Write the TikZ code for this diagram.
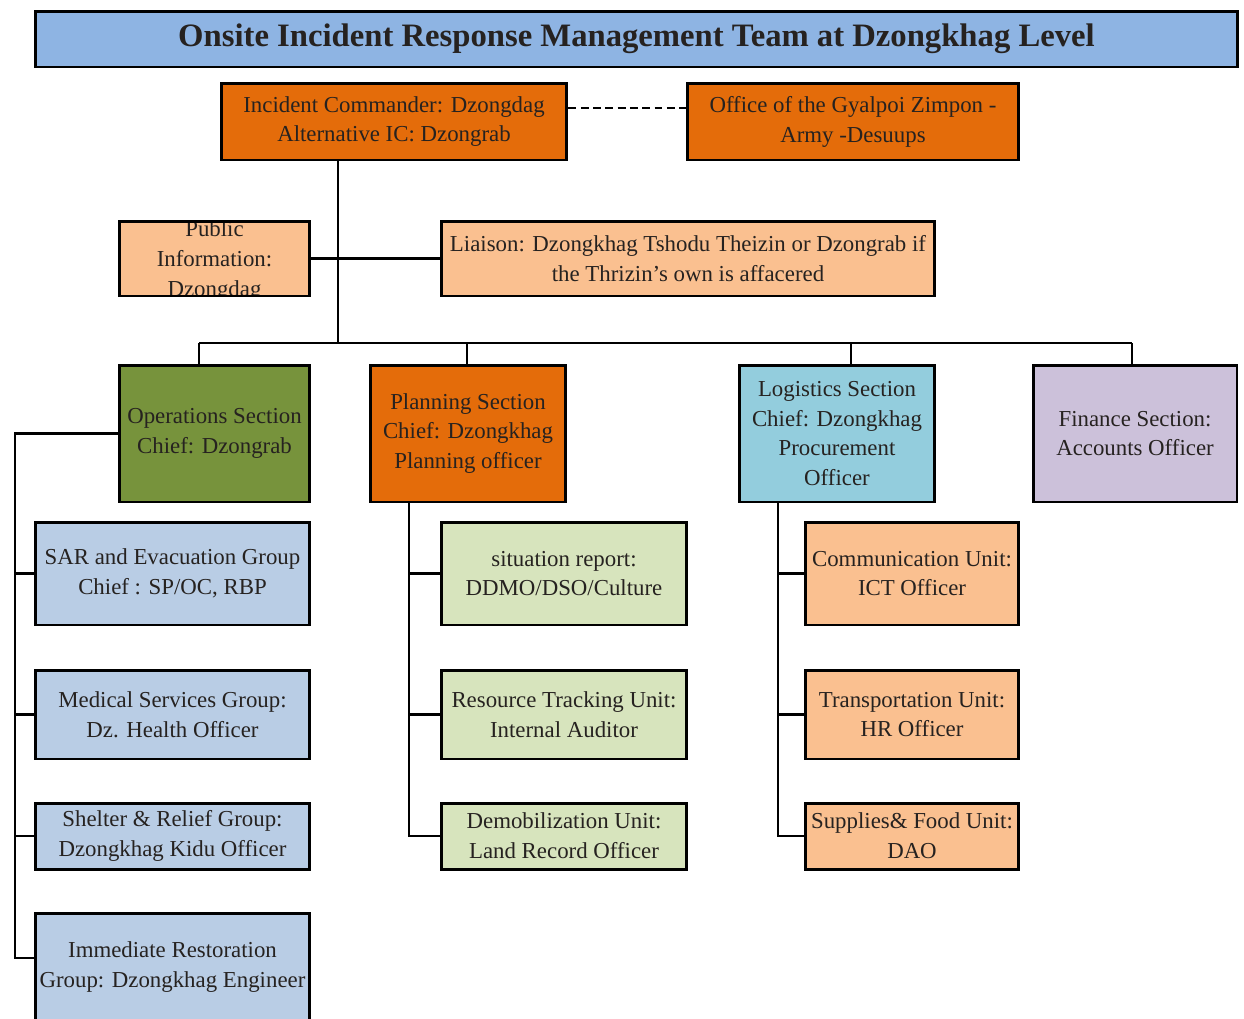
\documentclass[tikz,border=0pt]{standalone}
\usepackage{fontspec}
\setmainfont{Liberation Serif}
\usetikzlibrary{positioning}

\definecolor{titleblue}{HTML}{8EB4E3}
\definecolor{deeporange}{HTML}{E46C0A}
\definecolor{paleorange}{HTML}{FAC090}
\definecolor{olivegreen}{HTML}{77933C}
\definecolor{palegreen}{HTML}{D7E4BD}
\definecolor{skyblue}{HTML}{93CDDD}
\definecolor{steelblue}{HTML}{B9CDE5}
\definecolor{lavender}{HTML}{CCC1DA}
\definecolor{textdark}{HTML}{262220}

\begin{document}
\begin{tikzpicture}[
            x = 0.02cm, y = -0.02cm, % one unit = one pixel of the chart
            line width = 1.6pt, % connector lines
            font = \fontsize{13}{17}\selectfont
        ]

        \tikzstyle{box}=[
            draw = black,
            line width = 1.7pt,
            align = center,
            inner sep = 2pt,
            text = textdark
        ]
        \tikzstyle{section}=[box, minimum height = 2.74cm]
        \tikzstyle{unit}=[box, minimum height = 2.06cm]
        \tikzstyle{unitmid}=[box, minimum height = 1.78cm]
        \tikzstyle{unitlow}=[box, minimum height = 1.32cm]

        \useasboundingbox[fill=white] (0,0) rectangle (1244,1018);

        % heading
        \node[box, fill=titleblue, minimum width=24.06cm, minimum height=1.12cm,
              font=\fontsize{18.6}{20}\selectfont\bfseries] (title) at (636.5,39)
              {Onsite Incident Response Management Team at Dzongkhag Level};

        % command
        \node[box, fill=deeporange, minimum width=6.92cm, minimum height=1.54cm] (ic) at (394,121.5)
              {Incident Commander: Dzongdag\\Alternative IC: Dzongrab};
        \node[box, fill=deeporange, minimum width=6.64cm, minimum height=1.54cm] (office) at (853,121.5)
              {Office of the Gyalpoi Zimpon -\\Army -Desuups};

        % command staff
        \node[box, draw=none, outer sep=0pt, fill=paleorange, minimum width=3.82cm, minimum height=1.5cm] (pub) at (214.5,258.5) {};
        \begin{scope}
            \clip (pub.south west) rectangle (pub.north east);
            \node[align=center, text=textdark] (pubtext) at (214.5,261) {Public\\Information:\\Dzongdag};
        \end{scope}
        \draw[line width=1.7pt] (pub.south west) rectangle (pub.north east);
        \node[box, fill=paleorange, minimum width=9.88cm, minimum height=1.5cm] (liaison) at (688,258.5)
              {Liaison: Dzongkhag Tshodu Theizin or Dzongrab if\\the Thrizin's own is affacered};

        % general staff
        \node[section, fill=olivegreen, minimum width=3.82cm] (ops) at (214.5,433.5)
              {Operations Section\\Chief: Dzongrab};
        \node[section, fill=deeporange, minimum width=3.92cm] (plan) at (468,433.5)
              {Planning Section\\Chief: Dzongkhag\\Planning officer};
        \node[section, fill=skyblue, minimum width=3.92cm] (log) at (837,433.5)
              {Logistics Section\\Chief: Dzongkhag\\Procurement\\Officer};
        \node[section, fill=lavender, minimum width=4.08cm] (fin) at (1135,433.5)
              {Finance Section:\\Accounts Officer};

        % operations groups
        \node[unit, fill=steelblue, minimum width=5.5cm] (sar) at (172.5,573.5)
              {SAR and Evacuation Group\\Chief : SP/OC, RBP};
        \node[unitmid, fill=steelblue, minimum width=5.5cm] (med) at (172.5,714.5)
              {Medical Services Group:\\Dz. Health Officer};
        \node[unitlow, fill=steelblue, minimum width=5.5cm] (shel) at (172.5,836)
              {Shelter \& Relief Group:\\Dzongkhag Kidu Officer};
        \node[box, fill=steelblue, minimum width=5.5cm, minimum height=2.16cm] (imm) at (172.5,967)
              {Immediate Restoration\\Group: Dzongkhag Engineer};

        % planning units
        \node[unit, fill=palegreen, minimum width=4.92cm] (sit) at (564,573.5)
              {situation report:\\DDMO/DSO/Culture};
        \node[unitmid, fill=palegreen, minimum width=4.92cm] (res) at (564,714.5)
              {Resource Tracking Unit:\\Internal Auditor};
        \node[unitlow, fill=palegreen, minimum width=4.92cm] (dem) at (564,836)
              {Demobilization Unit:\\Land Record Officer};

        % logistics units
        \node[unit, fill=paleorange, minimum width=4.28cm] (com) at (912,573.5)
              {Communication Unit:\\ICT Officer};
        \node[unitmid, fill=paleorange, minimum width=4.28cm] (tra) at (912,714.5)
              {Transportation Unit:\\HR Officer};
        \node[unitlow, fill=paleorange, minimum width=4.28cm] (sup) at (912,836)
              {Supplies\& Food Unit:\\DAO};

        % connectors
        \coordinate (trunk) at (338,343);
        \coordinate (busL) at (199,343);
        \coordinate (busR) at (1132,343);
        \coordinate (opsbot) at (15,958);
        \coordinate (planline) at (409,843);
        \coordinate (logline) at (778,849);

        \draw[dashed, dash pattern=on 4.5pt off 2.5pt] ([yshift=2.7mm]ic.east) -- ([yshift=2.7mm]office.west);
        \draw (ic.south -| trunk) -- (trunk);
        \draw (pub.east) -- (liaison.west);
        \draw (busL) -- (busR);

        \foreach \n/\x in {ops/199, plan/467, log/851, fin/1132}
        {
            \coordinate (drop\n) at (\x,343);
            \draw (drop\n) -- (\n.north -| drop\n);
        }

        \draw (ops.west) -| (opsbot) -- (imm.west |- opsbot);
        \foreach \n in {sar, med, shel}
            \draw (\n.west) -- (\n.west -| opsbot);

        \draw (plan.south -| planline) |- (dem.west);
        \foreach \n in {sit, res}
            \draw (\n.west) -- (\n.west -| planline);

        \draw (log.south -| logline) |- (sup.west);
        \foreach \n in {com, tra}
            \draw (\n.west) -- (\n.west -| logline);

  \end{tikzpicture}
\end{document}
